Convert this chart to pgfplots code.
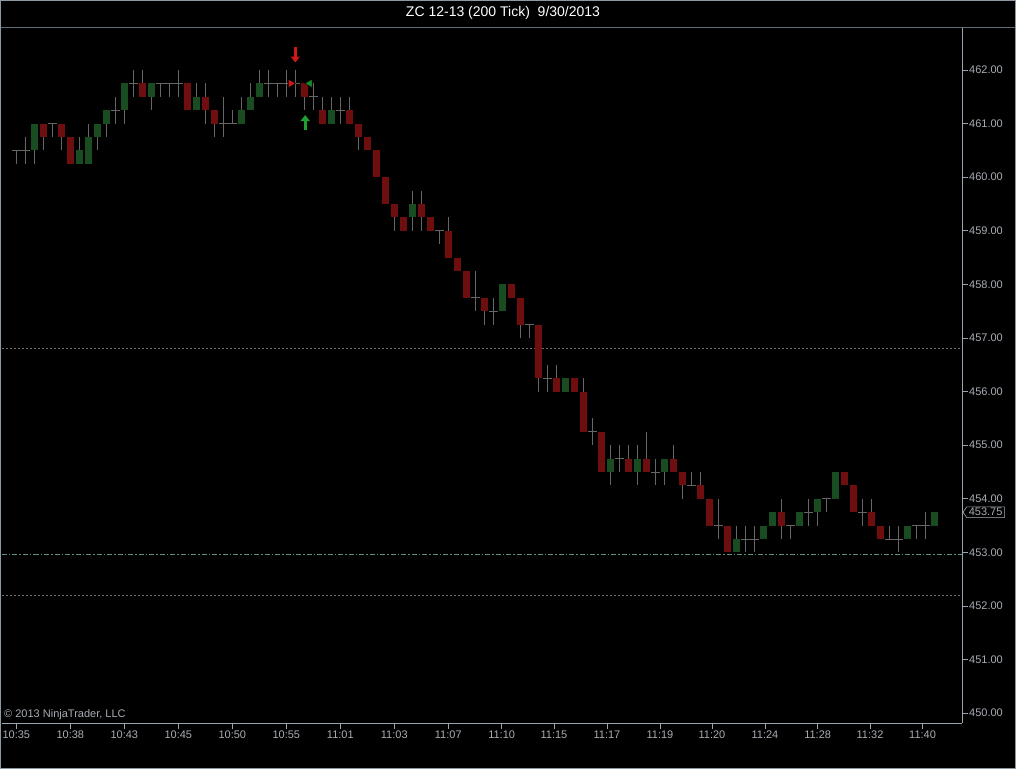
\documentclass[border=0pt]{standalone}
\usepackage{fontspec}
\setmainfont{Liberation Sans}
\usepackage{pgfplots}
\pgfplotsset{compat=1.18}
\usepackage{pgfplotstable}
\usetikzlibrary{shapes.symbols,arrows.meta}
\definecolor{upg}{HTML}{1A4C22}
\definecolor{dnr}{HTML}{6E0E0E}
\definecolor{wick}{HTML}{666666}
\definecolor{axg}{HTML}{9AA4AE}
\definecolor{lblg}{HTML}{A8ADB4}
\definecolor{frameg}{HTML}{8C98A4}
\definecolor{lvl}{HTML}{707070}
\definecolor{tealg}{HTML}{5E8C84}
\definecolor{arrred}{HTML}{D01818}
\definecolor{arrgreen}{HTML}{20A030}
\pgfplotsset{nomark/.style={only marks, mark=*, mark size=0pt, mark options={draw=none, fill=none}}}

\pgfplotstableread{
x o h l c
0 460.5 460.5 460.25 460.5
1 460.5 460.75 460.25 460.5
2 460.5 461.0 460.25 461.0
3 461.0 461.0 460.5 460.75
4 461.0 461.0 460.75 461.0
5 461.0 461.0 460.5 460.75
6 460.75 460.75 460.25 460.25
7 460.25 460.75 460.25 460.5
8 460.25 461.0 460.25 460.75
9 460.75 461.0 460.5 461.0
10 461.0 461.25 460.75 461.25
11 461.25 461.5 461.0 461.25
12 461.25 461.75 461.0 461.75
13 461.75 462.0 461.5 461.75
14 461.75 462.0 461.5 461.5
15 461.5 461.75 461.25 461.75
16 461.75 461.75 461.5 461.75
17 461.75 461.75 461.5 461.75
18 461.75 462.0 461.5 461.75
19 461.75 461.75 461.25 461.25
20 461.25 461.75 461.25 461.5
21 461.5 461.75 461.0 461.25
22 461.25 461.25 460.75 461.0
23 461.0 461.5 460.75 461.0
24 461.0 461.25 461.0 461.0
25 461.0 461.5 461.0 461.25
26 461.25 461.75 461.25 461.5
27 461.5 462.0 461.5 461.75
28 461.75 462.0 461.5 461.75
29 461.75 461.75 461.5 461.75
30 461.75 462.0 461.5 461.75
31 461.75 462.0 461.5 461.75
32 461.75 461.75 461.25 461.5
33 461.5 461.75 461.25 461.5
34 461.25 461.5 461.0 461.0
35 461.0 461.5 461.0 461.25
36 461.25 461.5 461.0 461.25
37 461.25 461.5 461.0 461.0
38 461.0 461.0 460.5 460.75
39 460.75 460.75 460.5 460.5
40 460.5 460.5 460.0 460.0
41 460.0 460.0 459.5 459.5
42 459.5 459.5 459.0 459.25
43 459.25 459.25 459.0 459.0
44 459.25 459.75 459.0 459.5
45 459.5 459.75 459.0 459.25
46 459.25 459.25 459.0 459.0
47 459.0 459.0 458.75 459.0
48 459.0 459.25 458.5 458.5
49 458.5 458.5 458.25 458.25
50 458.25 458.25 457.75 457.75
51 457.75 458.25 457.5 457.75
52 457.75 457.75 457.25 457.5
53 457.5 457.75 457.25 457.5
54 457.5 458.0 457.5 458.0
55 458.0 458.0 457.75 457.75
56 457.75 457.75 457.0 457.25
57 457.25 457.25 457.0 457.25
58 457.25 457.25 456.0 456.25
59 456.25 456.5 456.0 456.25
60 456.25 456.5 456.0 456.0
61 456.0 456.25 456.0 456.25
62 456.25 456.25 456.0 456.0
63 456.0 456.25 455.25 455.25
64 455.25 455.5 455.0 455.25
65 455.25 455.25 454.5 454.5
66 454.5 455.0 454.25 454.75
67 454.75 455.0 454.5 454.75
68 454.75 455.0 454.5 454.5
69 454.5 455.0 454.25 454.75
70 454.75 455.25 454.5 454.5
71 454.5 454.75 454.25 454.5
72 454.5 454.75 454.25 454.75
73 454.75 455.0 454.5 454.5
74 454.5 454.5 454.0 454.25
75 454.25 454.5 454.25 454.25
76 454.25 454.5 454.0 454.0
77 454.0 454.0 453.5 453.5
78 453.5 454.0 453.25 453.5
79 453.5 453.5 453.0 453.0
80 453.0 453.5 453.0 453.25
81 453.25 453.5 453.0 453.25
82 453.25 453.5 453.0 453.25
83 453.25 453.5 453.25 453.5
84 453.5 453.75 453.5 453.75
85 453.75 454.0 453.25 453.5
86 453.5 453.5 453.25 453.5
87 453.5 453.75 453.5 453.75
88 453.75 454.0 453.5 453.75
89 453.75 454.0 453.5 454.0
90 454.0 454.0 453.75 454.0
91 454.0 454.5 454.0 454.5
92 454.5 454.5 454.25 454.25
93 454.25 454.25 453.75 453.75
94 453.75 454.0 453.5 453.75
95 453.75 454.0 453.5 453.5
96 453.5 453.5 453.25 453.25
97 453.25 453.5 453.25 453.25
98 453.25 453.5 453.0 453.25
99 453.25 453.5 453.25 453.5
100 453.5 453.5 453.25 453.5
101 453.5 453.75 453.25 453.5
102 453.5 453.75 453.5 453.75
}\bars

\begin{document}
\begin{tikzpicture}
\useasboundingbox (0,0) rectangle (1016pt,769pt);
\fill[black] (0,0) rectangle (1016pt,769pt);
\draw[frameg, line width=1pt] (0.5pt,0.5pt) rectangle (1015.5pt,768.5pt);
\draw[frameg!70!black, line width=0.8pt] (1pt,741.5pt) -- (1015pt,741.5pt);
\node[text=white, font=\fontsize{14pt}{16pt}\selectfont] at (503pt,756pt) {ZC 12-13 (200 Tick)\ \ 9/30/2013};
\begin{axis}[
  at={(2pt,46pt)}, anchor=south west,
  scale only axis, width=960pt, height=695pt,
  xmin=-1.59, xmax=105.08, ymin=449.817, ymax=462.784,
  clip=false,
  axis x line*=bottom, axis y line*=right,
  axis line style={axg, line width=0.8pt, -},
  tick style={axg, line width=0.8pt},
  tick align=outside, major tick length=6pt,
  xtick={0,6,12,18,24,30,36,42,48,53.93,59.74,65.63,71.52,77.3,83.19,89.04,94.86,100.7},
  xticklabels={10:35,10:38,10:43,10:45,10:50,10:55,11:01,11:03,11:07,11:10,11:15,11:17,11:19,11:20,11:24,11:28,11:32,11:40},
  ytick={450,451,...,462},
  yticklabel style={/pgf/number format/.cd, fixed, fixed zerofill, precision=2, /tikz/.cd, inner sep=1pt},
  xticklabel style={inner sep=2pt},
  /pgf/number format/assume math mode=true,
  ticklabel style={text=lblg, font=\fontsize{11pt}{13pt}\selectfont},
  minor tick num=0,
]
% level lines
\addplot[lvl, line width=0.6pt, dash pattern=on 2pt off 2pt] coordinates {(-1.59,456.81) (105.08,456.81)};
\addplot[lvl, line width=0.6pt, dash pattern=on 2pt off 2pt] coordinates {(-1.59,452.2) (105.08,452.2)};
\addplot[tealg, line width=0.9pt, dash pattern=on 5pt off 2pt on 1.5pt off 2pt] coordinates {(-1.59,452.97) (105.08,452.97)};
% wicks
\addplot[nomark, error bars/.cd, y dir=plus, y explicit, error mark=none,
  error bar style={wick, line width=1pt}]
  table[x=x, y=l, y error expr={\thisrow{h}-\thisrow{l}}] {\bars};
% up bodies
\addplot[nomark, error bars/.cd, y dir=plus, y explicit, error mark=none,
  error bar style={upg, line width=6.8pt, line cap=butt, solid}]
  table[x=x, y expr={\thisrow{c}>\thisrow{o} ? \thisrow{o} : nan}, y error expr={\thisrow{c}-\thisrow{o}}] {\bars};
% down bodies
\addplot[nomark, error bars/.cd, y dir=plus, y explicit, error mark=none,
  error bar style={dnr, line width=6.8pt, line cap=butt, solid}]
  table[x=x, y expr={\thisrow{c}<\thisrow{o} ? \thisrow{c} : nan}, y error expr={\thisrow{o}-\thisrow{c}}] {\bars};
% doji
\addplot[only marks, mark=-, mark size=4.5pt, mark options={wick, line width=1pt}]
  table[x=x, y expr={\thisrow{c}==\thisrow{o} ? \thisrow{o} : nan}] {\bars};
% signal arrows
\addplot[arrred, line width=3pt, -{Triangle[width=9pt,length=6pt]}, quiver={u=0,v=-0.29}] coordinates {(31,462.43)};
\addplot[arrgreen, line width=3pt, -{Triangle[width=9pt,length=6pt]}, quiver={u=0,v=0.27}] coordinates {(32.1,460.89)};
\addplot[only marks, mark=triangle*, mark size=4.8pt, mark options={rotate=-90, fill=arrred, draw=none}] coordinates {(30.5,461.75)};
\addplot[only marks, mark=triangle*, mark size=4.8pt, mark options={rotate=90, fill=arrgreen!85!black, draw=none}] coordinates {(32.6,461.75)};
% current price box
\node[signal, signal to=west, signal pointer angle=110, draw=lblg, fill=black, text=lblg, inner xsep=2pt, inner ysep=1.5pt, anchor=west, line width=0.6pt,
  font=\fontsize{11pt}{13pt}\selectfont] at (axis cs:105.15,453.75) {453.75};
\node[anchor=south west, text=lblg, inner sep=0pt, font=\fontsize{11pt}{13pt}\selectfont] at ([xshift=2pt,yshift=3pt]axis description cs:0,0) {\textcopyright\ 2013 NinjaTrader, LLC};
\end{axis}
\end{tikzpicture}
\end{document}
